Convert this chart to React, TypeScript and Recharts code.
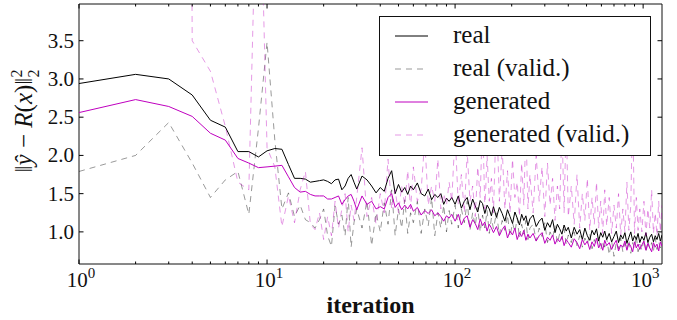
import React from 'react';
import { LineChart, Line, XAxis, YAxis, Legend, ReferenceArea } from 'recharts';

const iterations = [
  1, 2, 3, 4, 5, 6, 7, 8, 9, 10, 11, 12, 13, 14, 15, 16, 17, 18, 19, 20, 21, 22, 23, 24, 25, 26, 27, 28, 29, 30,
  32, 34, 36, 38, 40, 42, 44, 46, 48, 50, 52, 54, 56, 58, 60,
  63, 66, 69, 72, 75, 78, 81, 84, 87, 90, 93, 96,
  100, 104, 108, 112, 116, 120, 124, 128, 132, 136, 140, 144, 148, 152, 156, 160,
  166, 172, 178, 184, 190, 196, 202, 208, 214, 220, 226, 232, 238, 244, 250,
  260, 270, 280, 290, 300, 310, 320, 330, 340, 350, 360, 370, 380, 390, 400,
  415, 430, 445, 460, 475, 490, 505, 520, 535, 550, 565, 580, 595, 610, 625, 640,
  660, 680, 700, 720, 740, 760, 780, 800, 820, 840, 860, 880, 900, 920, 940, 960,
  985, 1010, 1035, 1060, 1085, 1110, 1135, 1160, 1185, 1210, 1235, 1260,
];

const realLoss = [
  2.94, 3.06, 3.0, 2.79, 2.46, 2.37, 2.05, 2.05, 1.98, 2.06, 2.09, 2.08, 1.88, 1.7, 1.7, 1.69, 1.65, 1.66, 1.67, 1.68, 1.66, 1.63, 1.68, 1.69, 1.55, 1.6, 1.7, 1.75, 1.65, 1.56,
  1.73, 1.68, 1.6, 1.51, 1.58, 1.53, 1.7, 1.8, 1.5, 1.62, 1.52, 1.58, 1.49, 1.6, 1.55,
  1.64, 1.5, 1.47, 1.56, 1.42, 1.49, 1.45, 1.5, 1.36, 1.44, 1.4, 1.45,
  1.36, 1.47, 1.31, 1.4, 1.45, 1.29, 1.43, 1.34, 1.26, 1.41, 1.37, 1.24, 1.35, 1.3, 1.21, 1.33,
  1.19, 1.32, 1.24, 1.14, 1.29, 1.2, 1.11, 1.26, 1.18, 1.09, 1.23, 1.15, 1.21, 1.08, 1.17,
  1.22, 1.07, 1.14, 1.18, 1.02, 1.12, 1.06, 1.16, 0.99, 1.1, 1.04, 0.97, 1.09, 1.01, 1.06,
  0.92, 1.06, 0.97, 1.03, 0.9, 1.05, 0.95, 0.89, 1.02, 0.96, 1.04, 0.88, 0.99, 0.93, 1.01, 0.9,
  0.98, 0.87, 0.94, 1.01, 0.86, 0.96, 0.91, 0.99, 0.85, 0.93, 1.0, 0.88, 0.95, 0.9, 0.98, 0.86,
  0.94, 0.89, 0.99, 0.86, 0.93, 0.97, 0.87, 0.95, 0.9, 0.98, 0.88, 0.96,
];

const realValid = [
  1.79, 2.0, 2.43, 1.9, 1.45, 1.68, 1.79, 1.23, 2.35, 3.48, 2.2, 1.3, 1.51, 1.2, 1.35, 1.16, 1.12, 1.05, 1.16, 1.3, 0.95, 0.81, 1.34, 1.1, 1.22, 0.95, 1.45, 0.8, 1.12, 1.3,
  1.05, 1.4, 0.82, 1.25, 1.0, 1.38, 1.1, 1.55, 0.95, 1.3, 1.05, 1.42, 0.98, 1.25, 1.12,
  1.4, 0.98, 1.3, 1.08, 1.45, 0.95, 1.25, 1.05, 1.35, 1.0, 1.28, 1.1,
  1.35, 1.05, 1.3, 1.12, 1.4, 1.02, 1.25, 1.08, 1.32, 1.0, 1.22, 1.05, 1.28, 0.98, 1.18, 1.04,
  1.25, 0.96, 1.15, 1.02, 1.22, 0.94, 1.12, 1.0, 1.18, 0.92, 1.1, 0.97, 1.15, 0.9, 1.05,
  1.1, 0.88, 1.05, 0.94, 1.12, 0.86, 1.0, 0.92, 1.08, 0.85, 0.98, 0.9, 1.04, 0.84, 0.96,
  0.86, 1.0, 0.82, 0.95, 0.8, 0.92, 0.84, 0.98, 0.78, 0.9, 0.82, 0.94, 0.76, 0.88, 0.8, 0.92,
  0.7, 0.88, 0.68, 0.86, 0.78, 0.92, 0.74, 0.85, 0.77, 0.9, 0.72, 0.86, 0.78, 0.95, 0.74, 0.84,
  0.76, 0.9, 0.73, 0.88, 0.78, 0.86, 0.75, 0.92, 0.77, 0.87, 0.79, 0.85,
];

const generatedLoss = [
  2.56, 2.73, 2.64, 2.51, 2.29, 2.2, 1.96, 1.9, 1.84, 1.85, 1.86, 1.87, 1.72, 1.58, 1.52, 1.53, 1.49, 1.47, 1.47, 1.47, 1.43, 1.43, 1.45, 1.47, 1.36, 1.42, 1.47, 1.49, 1.4, 1.29,
  1.47, 1.36, 1.4, 1.3, 1.33, 1.3, 1.45, 1.5, 1.32, 1.38, 1.29, 1.35, 1.3, 1.36, 1.27,
  1.32, 1.22, 1.28, 1.24, 1.29, 1.21, 1.25, 1.2, 1.14, 1.21, 1.18, 1.23,
  1.14, 1.23, 1.09, 1.18, 1.21, 1.06, 1.16, 1.11, 1.03, 1.17, 1.08, 1.13, 1.01, 1.1, 1.05, 0.99,
  1.07, 0.95, 1.03, 1.08, 0.92, 1.01, 0.96, 1.05, 0.9, 0.99, 0.94, 1.02, 0.89, 0.97, 0.92,
  0.98, 0.88, 0.95, 0.99, 0.85, 0.93, 0.89, 0.96, 0.84, 0.91, 0.87, 0.94, 0.82, 0.9, 0.86,
  0.8, 0.91, 0.86, 0.78, 0.9, 0.83, 0.88, 0.77, 0.87, 0.81, 0.92, 0.79, 0.85, 0.76, 0.89, 0.82,
  0.86, 0.77, 0.84, 0.89, 0.75, 0.83, 0.8, 0.88, 0.76, 0.85, 0.81, 0.74, 0.87, 0.79, 0.84, 0.77,
  0.83, 0.88, 0.76, 0.85, 0.79, 0.74, 0.86, 0.8, 0.84, 0.75, 0.87, 0.81,
];

const generatedValid = [
  40, 45, 60, 3.5, 3.1, 2.38, 1.65, 1.55, 6.6, 2.1, 1.85, 1.07, 1.47, 1.12, 1.55, 1.79, 1.1, 1.03, 1.25, 0.9, 1.2, 0.95, 1.4, 1.05, 1.3, 1.5, 1.0, 1.35, 1.15, 1.45,
  2.1, 1.2, 1.45, 1.1, 1.5, 1.25, 1.95, 1.3, 1.55, 1.25, 1.6, 1.35, 1.8, 1.3, 1.85,
  1.4, 1.55, 2.2, 1.35, 1.6, 1.4, 1.95, 1.3, 1.5, 1.35, 1.65, 1.4,
  2.3, 1.35, 1.75, 1.25, 2.05, 1.4, 1.6, 1.2, 1.85, 1.45, 2.5, 1.3, 2.0, 1.4, 1.7, 1.25,
  2.6, 1.4, 2.1, 1.3, 1.8, 1.25, 1.95, 1.45, 1.65, 1.2, 1.9, 1.35, 2.4, 1.3, 1.75,
  1.25, 2.0, 1.4, 1.85, 1.2, 1.9, 1.35, 1.7, 1.15, 1.6, 1.3, 2.4, 1.25, 2.5, 1.2,
  1.6, 1.1, 1.75, 1.05, 1.5, 1.15, 1.7, 1.02, 1.45, 1.1, 1.65, 1.05, 1.4, 0.98, 1.55, 1.08,
  1.45, 0.98, 1.35, 1.05, 1.5, 0.96, 1.3, 1.0, 1.65, 1.02, 1.35, 2.7, 0.98, 1.45, 1.02, 1.3,
  1.0, 1.4, 0.95, 1.3, 1.05, 1.55, 0.98, 1.25, 0.95, 1.4, 1.0, 1.35,
];

const xTicks = [
  1, 2, 3, 4, 5, 6, 7, 8, 9,
  10, 20, 30, 40, 50, 60, 70, 80, 90,
  100, 200, 300, 400, 500, 600, 700, 800, 900, 1000,
];
const yTicks = [1.0, 1.5, 2.0, 2.5, 3.0, 3.5];
const xDomain = [1, 1260];
const yDomain = [0.58, 3.98];

const seriesNames = ['real', 'real (valid.)', 'generated', 'generated (valid.)'];

const data = iterations.map((it, i) => ({
  it,
  real: realLoss[i],
  realValid: realValid[i],
  gen: generatedLoss[i],
  genValid: generatedValid[i],
}));

const FONT = "'Liberation Serif', serif";
const MAGENTA = '#bf00bf';
const DASH = '6 5';

// plot box, used for the inward ticks on all four sides
const PLOT = { left: 79, top: 4, right: 662, bottom: 264 };

function XTick(props: any) {
  const { x, payload } = props;
  const lg = Math.log10(payload.value);
  const exp = Math.round(lg);
  const major = Math.abs(lg - exp) < 1e-9;
  const len = major ? 4.5 : 2.5;
  return (
    <g>
      <line x1={x} x2={x} y1={PLOT.bottom} y2={PLOT.bottom - len} stroke="#000" strokeWidth={1} />
      <line x1={x} x2={x} y1={PLOT.top} y2={PLOT.top + len} stroke="#000" strokeWidth={1} />
      {major && (
        <text x={x + 2} y={287} textAnchor="middle" fontFamily={FONT} fontSize={21} fill="#111">
          10
          <tspan dy={-9} fontSize={15}>
            {exp}
          </tspan>
        </text>
      )}
    </g>
  );
}

function YTick(props: any) {
  const { y, payload } = props;
  return (
    <g>
      <line x1={PLOT.left} x2={PLOT.left + 4.5} y1={y} y2={y} stroke="#000" strokeWidth={1} />
      <line x1={PLOT.right} x2={PLOT.right - 4.5} y1={y} y2={y} stroke="#000" strokeWidth={1} />
      <text x={74} y={y} dy="0.33em" textAnchor="end" fontFamily={FONT} fontSize={21} fill="#111">
        {Number(payload.value).toFixed(1)}
      </text>
    </g>
  );
}

function XLabel(props: any) {
  const vb = props.viewBox;
  return (
    <text x={vb.x + vb.width / 2} y={vb.y + 49} textAnchor="middle" fontFamily={FONT} fontSize={24} fontWeight="bold" fill="#111">
      iteration
    </text>
  );
}

function YLabel() {
  return (
    <text transform="translate(32,121) rotate(-90)" textAnchor="middle" fontFamily={FONT} fontSize={25} fill="#111">
      ‖<tspan fontStyle="italic">ŷ</tspan> − <tspan fontStyle="italic">R</tspan>(<tspan fontStyle="italic">x</tspan>)‖
      <tspan fontSize={16} dy={-10}>2</tspan>
      <tspan fontSize={16} dx={-8} dy={17}>2</tspan>
    </text>
  );
}

const legendStyles = [
  { stroke: '#000', opacity: 1, dash: undefined },
  { stroke: '#000', opacity: 0.4, dash: DASH },
  { stroke: MAGENTA, opacity: 1, dash: undefined },
  { stroke: MAGENTA, opacity: 0.4, dash: DASH },
];

function LegendBox() {
  const rows = [20, 53, 86, 119];
  return (
    <svg width={272} height={140} style={{ display: 'block' }}>
      <rect x={0.5} y={0.5} width={271} height={139} fill="#fff" stroke="#111" strokeWidth={1} />
      {seriesNames.map((name, i) => (
        <g key={name}>
          <line
            x1={16}
            x2={49}
            y1={rows[i]}
            y2={rows[i]}
            stroke={legendStyles[i].stroke}
            strokeOpacity={legendStyles[i].opacity}
            strokeDasharray={legendStyles[i].dash}
            strokeWidth={1}
          />
          <text x={74} y={rows[i] + 7} fontFamily={FONT} fontSize={25} fill="#111">
            {name}
          </text>
        </g>
      ))}
    </svg>
  );
}

export default function App() {
  return (
    <div style={{ position: 'absolute', left: 0, top: 0, width: 677, height: 320, background: '#fff' }}>
      <LineChart width={677} height={320} data={data} margin={{ top: 4, right: 15, bottom: 0, left: 0 }}>
        <XAxis
          dataKey="it"
          type="number"
          scale="log"
          domain={xDomain}
          allowDataOverflow
          ticks={xTicks}
          interval={0}
          height={56}
          axisLine={false}
          tickLine={false}
          tick={<XTick />}
          label={{ content: <XLabel /> }}
        />
        <YAxis
          type="number"
          domain={yDomain}
          allowDataOverflow
          ticks={yTicks}
          interval={0}
          width={79}
          axisLine={false}
          tickLine={false}
          tick={<YTick />}
          label={{ content: <YLabel /> }}
        />
        <Line dataKey="real" name={seriesNames[0]} type="linear" stroke="#000" strokeWidth={1} dot={false} isAnimationActive={false} />
        <Line dataKey="realValid" name={seriesNames[1]} type="linear" stroke="#000" strokeOpacity={0.4} strokeDasharray={DASH} strokeWidth={1} dot={false} isAnimationActive={false} />
        <Line dataKey="gen" name={seriesNames[2]} type="linear" stroke={MAGENTA} strokeWidth={1} dot={false} isAnimationActive={false} />
        <Line dataKey="genValid" name={seriesNames[3]} type="linear" stroke={MAGENTA} strokeOpacity={0.4} strokeDasharray={DASH} strokeWidth={1} dot={false} isAnimationActive={false} />
        <ReferenceArea x1={xDomain[0]} x2={xDomain[1]} y1={yDomain[0]} y2={yDomain[1]} fill="none" stroke="#111" strokeWidth={1} ifOverflow="visible" />
        <Legend
          layout="vertical"
          align="center"
          verticalAlign="middle"
          wrapperStyle={{ left: 379, top: 16, width: 272, height: 140 }}
          content={<LegendBox />}
        />
      </LineChart>
    </div>
  );
}
